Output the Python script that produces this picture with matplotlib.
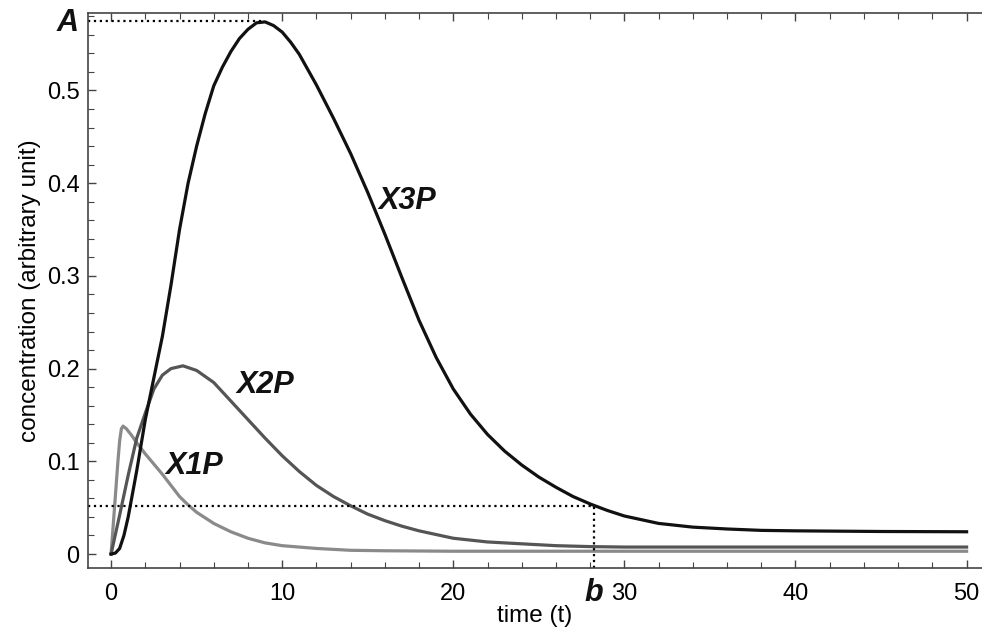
import matplotlib.pyplot as plt
import numpy as np
from matplotlib.ticker import MultipleLocator, FuncFormatter

plt.rcParams['font.family'] = ['Liberation Sans', 'DejaVu Sans']

# values
t_x1p = [0, 0.1, 0.2, 0.3, 0.4, 0.5, 0.6, 0.7, 0.9, 1.2, 1.5, 2, 2.5, 3, 3.5, 4, 4.5,
         5, 6, 7, 8, 9, 10, 12, 14, 16, 20, 30, 40, 50]
x1p = [0, 0.025, 0.05, 0.075, 0.1, 0.122, 0.135, 0.138, 0.135, 0.128, 0.12, 0.108,
       0.097, 0.086, 0.074, 0.062, 0.053, 0.045, 0.033, 0.024, 0.017, 0.012, 0.009,
       0.006, 0.004, 0.0035, 0.003, 0.003, 0.003, 0.003]

t_x2p = [0, 0.5, 1, 1.5, 2, 2.5, 3, 3.5, 4.2, 5, 6, 7, 8, 9, 10, 11, 12, 13, 14, 15,
         16, 17, 18, 19, 20, 22, 24, 26, 28, 30, 35, 40, 50]
x2p = [0, 0.042, 0.085, 0.125, 0.152, 0.178, 0.193, 0.2, 0.203, 0.198, 0.185, 0.165,
       0.145, 0.125, 0.106, 0.089, 0.074, 0.062, 0.052, 0.043, 0.036, 0.03, 0.025,
       0.021, 0.017, 0.013, 0.011, 0.009, 0.008, 0.0075, 0.0075, 0.0075, 0.0075]

t_x3p = [0, 0.25, 0.5, 0.75, 1, 1.5, 2, 2.5, 3, 3.5, 4, 4.5, 5, 5.5, 6, 6.5, 7, 7.5,
         8, 8.5, 9, 9.5, 10, 10.5, 11, 12, 13, 14, 15, 16, 17, 18, 19, 20, 21, 22,
         23, 24, 25, 26, 27, 28, 29, 30, 31, 32, 33, 34, 36, 38, 40, 45, 50]
x3p = [0, 0.001, 0.006, 0.02, 0.04, 0.09, 0.145, 0.19, 0.235, 0.29, 0.35, 0.4, 0.44,
       0.475, 0.505, 0.525, 0.542, 0.556, 0.566, 0.573, 0.574, 0.57, 0.563, 0.552,
       0.539, 0.506, 0.47, 0.432, 0.39, 0.345, 0.298, 0.252, 0.212, 0.178, 0.151,
       0.129, 0.111, 0.096, 0.083, 0.072, 0.062, 0.054, 0.047, 0.041, 0.037, 0.033,
       0.031, 0.029, 0.027, 0.0255, 0.025, 0.0243, 0.024]

peak_t, peak_v = 8.8, 0.575   # point "A"
b_t, b_v = 28.2, 0.052        # point "b"

fig = plt.figure(figsize=(9.82, 6.37), dpi=100)
ax = fig.add_axes([0.0896, 0.1083, 0.9104, 0.8713])

ax.plot(t_x1p, x1p, color='#8a8a8a', lw=2.3)
ax.plot(t_x2p, x2p, color='#555555', lw=2.3)
ax.plot(t_x3p, x3p, color='#111111', lw=2.3)

# dotted guides
ax.plot([-1.35, peak_t], [peak_v, peak_v], color='black', ls=':', lw=1.6)
ax.plot([-1.35, b_t], [b_v, b_v], color='black', ls=':', lw=1.6)
ax.plot([b_t, b_t], [-0.0151, b_v], color='black', ls=':', lw=1.6)

lab = dict(fontsize=22, fontweight='bold', fontstyle='italic', color='#111111')
ax.text(15.6, 0.381, 'X3P', ha='left', va='center', **lab)
ax.text(7.3, 0.182, 'X2P', ha='left', va='center', **lab)
ax.text(3.2, 0.095, 'X1P', ha='left', va='center', **lab)
ax.text(-0.023, peak_v - 0.002, 'A', transform=ax.get_yaxis_transform(),
        ha='center', va='center', **lab)
ax.text(b_t, -0.045, 'b', transform=ax.get_xaxis_transform(),
        ha='center', va='center', **lab)

ax.set_xlim(-1.35, 50.9)
ax.set_ylim(-0.0151, 0.5836)
ax.xaxis.set_major_locator(MultipleLocator(10))
ax.xaxis.set_minor_locator(MultipleLocator(2))
ax.yaxis.set_major_locator(MultipleLocator(0.1))
ax.yaxis.set_minor_locator(MultipleLocator(0.02))
ax.yaxis.set_major_formatter(FuncFormatter(lambda v, p: '0' if abs(v) < 1e-9 else f'{v:.1f}'))

ax.spines['right'].set_visible(False)
for s in ['left', 'bottom', 'top']:
    ax.spines[s].set_color('#444444')
    ax.spines[s].set_linewidth(1.2)
ax.tick_params(which='both', direction='in', top=True, right=False, color='#444444')
ax.tick_params(which='major', length=6, width=1)
ax.tick_params(which='minor', length=4, width=0.8)
ax.tick_params(axis='x', which='major', labelsize=17, pad=11)
ax.tick_params(axis='y', which='major', labelsize=17, pad=6)

ax.set_xlabel('time (t)', fontsize=17.5, labelpad=0)
ax.set_ylabel('concentration (arbitrary unit)', fontsize=17.5, labelpad=4)

fig.savefig('out.png', dpi=100)
